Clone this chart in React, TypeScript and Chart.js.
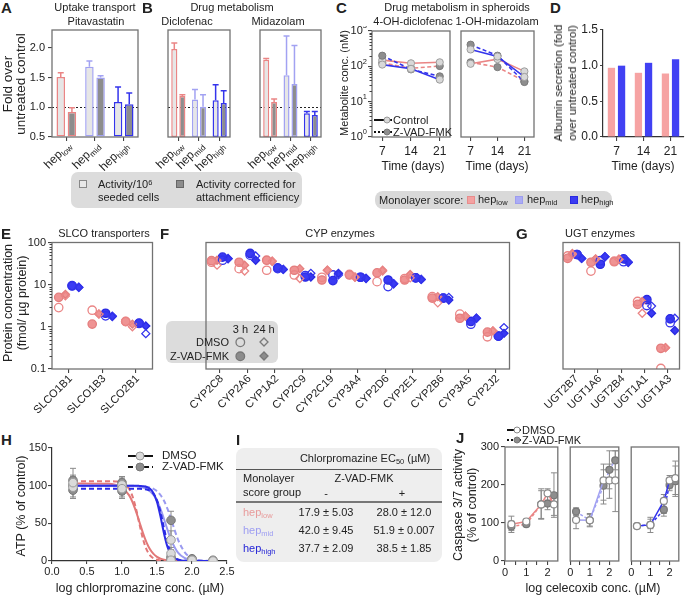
import React, { useEffect, useRef } from 'react';
import { Chart, registerables } from 'chart.js';

Chart.register(...registerables);

const FONT = "'Liberation Sans', Arial, Helvetica, sans-serif";
const INK = '#222';
Chart.defaults.font.family = FONT;
Chart.defaults.color = INK;

// ---------------- DATA ----------------
// Panels A & B: fold over untreated control (bar value, top of error bar)
const groups = ['low', 'mid', 'high'];
const pitavastatinSeeded = [1.51, 1.68, 1.09];
const pitavastatinSeededTop = [1.58, 1.78, 1.34];
const pitavastatinCorrected = [0.92, 1.5, 1.05];
const pitavastatinCorrectedTop = [0.99, 1.53, 1.24];
const diclofenacSeeded = [1.98, 1.13, 1.12];
const diclofenacSeededTop = [2.08, 1.3, 1.38];
const diclofenacCorrected = [1.19, 1.01, 1.07];
const diclofenacCorrectedTop = [1.21, 1.21, 1.28];
const midazolamSeeded = [1.8, 1.54, 0.9];
const midazolamSeededTop = [1.82, 2.2, 0.93];
const midazolamCorrected = [1.09, 1.39, 0.87];
const midazolamCorrectedTop = [1.14, 2.04, 0.93];
const activityTicks = [0.5, 1.0, 1.5, 2.0];

// Panel C: metabolite conc. (nM) in spheroids
const days = [7, 14, 21];
const ohDiclofenacLowCtrl = [150, 122, 130];
const ohDiclofenacLowZvad = [125, 88, 102];
const ohDiclofenacHighCtrl = [112, 85, 42];
const ohDiclofenacHighZvad = [200, 82, 52];
const ohMidazolamLowCtrl = [118, 160, 72];
const ohMidazolamLowZvad = [130, 95, 38];
const ohMidazolamHighCtrl = [300, 190, 50];
const ohMidazolamHighZvad = [410, 200, 36];
const metaboliteTicks = [1, 10, 100, 1000];
const metaboliteExponents = ['0', '1', '2', '3'];

// Panel D: albumin secretion
const albuminDays = ['7', '14', '21'];
const albuminLow = [0.97, 0.9, 0.89];
const albuminHigh = [1.0, 1.04, 1.09];

// Panels E, F, G: protein concentration (fmol/µg protein)
const proteins = [
  'SLCO1B1', 'SLCO1B3', 'SLCO2B1',
  'CYP2C8', 'CYP2A6', 'CYP1A2', 'CYP2C9', 'CYP2C19', 'CYP3A4', 'CYP2D6', 'CYP2E1', 'CYP2B6', 'CYP3A5', 'CYP2J2',
  'UGT2B7', 'UGT1A6', 'UGT2B4', 'UGT1A1', 'UGT1A3',
];
const lowDmso3h = [2.86, 2.48, 1.35, 34, 24, 22, 17, 15, 17.5, 11.8, 14, 5.2, 2.0, 0.58, 48, 21, 36, 4.0, 0.103];
const lowZvad3h = [5.0, 1.16, 1.33, 37, 34, 38, 22, 12.9, 17, 19, 12.9, 4.8, 1.6, 0.75, 42, 34, 35, 3.4, 0.31];
const lowDmso24h = [5.4, 2.0, 1.0, 29, 21, 36, 14, 22, 15, 21, 14.5, 3.7, 1.8, 0.8, 52, 40, 40, 2.1, 0.32];
const lowZvad24h = [5.9, 2.03, 1.16, 38, 29, 36, 24, 22, 15.2, 22, 17.5, 5.2, 1.8, 0.8, 55, 41, 40, 4.0, 0.32];
const highDmso3h = [9.3, 1.82, 1.2, 38, 50, 24, 16.5, 17, 15, 9.0, 14.5, 4.8, 1.15, 0.6, 52, 37, 35, 3.2, 1.25];
const highZvad3h = [9.5, 2.1, 1.22, 45, 55, 25, 15.2, 12.5, 15, 12.9, 14.5, 4.8, 1.34, 0.6, 52, 30.5, 41, 4.4, 1.55];
const highDmso24h = [8.6, 1.8, 0.69, 42, 48, 23, 18.6, 17, 14, 10.5, 13.3, 5.0, 1.6, 0.96, 42, 46, 34, 3.1, 1.6];
const highZvad24h = [8.7, 1.75, 1.05, 41, 38, 23, 15.2, 18.6, 14.1, 10.5, 13.3, 4.3, 1.6, 0.7, 42, 46, 34, 2.1, 0.82];
const proteinTicks = [0.1, 1, 10, 100];

// Panel H: ATP (% of control) vs log chlorpromazine
const fitX = [0.3, 0.8, 0.9, 1.0, 1.1, 1.15, 1.2, 1.25, 1.3, 1.35, 1.4, 1.45, 1.5, 1.55, 1.6, 1.65, 1.7, 1.8, 1.9, 2.0, 2.1, 2.2, 2.3];
const fitLowDmso = [103, 102.4, 101.2, 97.5, 87.4, 78.3, 65.9, 51.5, 37.1, 24.8, 15.6, 9.4, 5.5, 3.2, 1.8, 1.0, 0.6, 0.2, 0.1, 0, 0, 0, 0];
const fitLowZvad = [106, 106, 105.6, 103.8, 95.9, 85.9, 69.5, 48.7, 29.2, 15.4, 7.5, 3.5, 1.6, 0.7, 0.3, 0.1, 0, 0, 0, 0, 0, 0, 0];
const fitMidDmso = [100, 100, 100, 99.9, 99.7, 99.6, 99.2, 98.6, 97.5, 95.7, 92.7, 87.6, 79.9, 69.1, 55.7, 41.5, 28.5, 11.2, 3.8, 1.2, 0.4, 0.1, 0];
const fitMidZvad = [100, 100, 100, 100, 99.9, 99.8, 99.7, 99.6, 99.2, 98.6, 97.5, 95.7, 92.7, 87.6, 79.9, 69.1, 55.7, 28.5, 11.2, 3.8, 1.2, 0.4, 0.1];
const fitHighDmso = [100, 100, 100, 100, 100, 100, 100, 99.7, 99.3, 98.3, 95.8, 90.1, 78.4, 59.1, 36.5, 18.6, 8.3, 1.4, 0.2, 0, 0, 0, 0];
const fitHighZvad = [96, 96, 96, 96, 96, 96, 96, 95.8, 95.5, 94.9, 93.2, 89.2, 80.6, 64.9, 43.6, 23.9, 11.2, 2.0, 0.3, 0, 0, 0, 0];
const atpX = [0.3, 1.0, 1.7, 2.0, 2.3];
const atpLowDmso = [104, 96, 1, 1, 0];
const atpLowZvad = [107, 104, 1, 2, 0];
const atpMidDmso = [98, 101, 28, 1, 0];
const atpMidZvad = [100, 100, 54, 3, 1];
const atpHighDmso = [101, 99, 10, 0, 0];
const atpHighZvad = [94, 93, 5, 1, 0];
const atpLowDmsoErr = [[96, 112], [88, 104], null, null, null];
const atpLowZvadErr = [[100, 114], [97, 112], null, null, null];
const atpMidDmsoErr = [[83, 123], [90, 110], [15, 40], null, null];
const atpMidZvadErr = [[92, 108], [92, 108], [32, 66], null, null];
const atpHighDmsoErr = [[90, 110], [83, 112], [2, 18], null, null];
const atpHighZvadErr = [[85, 103], [85, 101], null, null, null];

// Panel I: EC50 table
const ec50Groups = ['low', 'mid', 'high'];
const ec50Dmso = ['17.9 ± 5.03', '42.0 ± 9.45', '37.7 ± 2.09'];
const ec50Zvad = ['28.0 ± 12.0', '51.9 ± 0.007', '38.5 ± 1.85'];

// Panel J: caspase 3/7 activity (% of control)
const celeX = [0.3, 1.0, 1.7, 2.0, 2.3];
const celeTicks = [0, 0.5, 1, 1.5, 2];
const casLowDmso = [97, 104, 149, 178, 149];
const casLowZvad = [91, 97, 149, 151, 173];
const casMidDmso = [108, 107, 212, 212, 212];
const casMidZvad = [130, 107, 198, 240, 265];
const casHighDmso = [92, 95, 158, 212, 218];
const casHighZvad = [92, 95, 135, 200, 210];
const casLowDmsoErr = [[80, 118], [96, 110], [112, 190], [160, 190], [120, 175]];
const casLowZvadErr = [[75, 105], [92, 103], [110, 185], [135, 180], [115, 232]];
const casMidDmsoErr = [[85, 130], [90, 125], [150, 255], [165, 255], [130, 290]];
const casMidZvadErr = [[120, 140], [92, 122], [160, 240], [190, 290], [240, 290]];
const casHighDmsoErr = [[88, 96], [75, 115], [125, 175], [190, 225], [175, 263]];
const casHighZvadErr = [[88, 96], [85, 110], [118, 150], [185, 215], [170, 250]];

// ---------------- STYLE ----------------
const C_LOW = '#ea8585';
const C_MID = '#a2a2f2';
const C_HIGH = '#3434ec';
const groupColors = [C_LOW, C_MID, C_HIGH];

// ---------------- PLUGINS ----------------
function drawErr(chart: any, after: boolean) {
  const { ctx } = chart;
  chart.data.datasets.forEach((ds: any, di: number) => {
    if (!ds.errorBars || !!ds.errorAfter !== after) return;
    const meta = chart.getDatasetMeta(di);
    const ys = chart.scales[meta.yAxisID];
    ctx.save();
    ctx.lineWidth = ds.errorWidth || 1;
    meta.data.forEach((el: any, i: number) => {
      const r = ds.errorBars[i];
      if (!r) return;
      const col = Array.isArray(ds.errorColor) ? ds.errorColor[i] : ds.errorColor || '#888';
      ctx.strokeStyle = col;
      const x = el.x;
      const y1 = ys.getPixelForValue(r[0]);
      const y2 = ys.getPixelForValue(r[1]);
      const cap = ds.errorCap || 3;
      ctx.beginPath();
      ctx.moveTo(x, y1);
      ctx.lineTo(x, y2);
      ctx.moveTo(x - cap, y2);
      ctx.lineTo(x + cap, y2);
      if (!ds.errorUpper) {
        ctx.moveTo(x - cap, y1);
        ctx.lineTo(x + cap, y1);
      }
      ctx.stroke();
    });
    ctx.restore();
  });
}
Chart.register({
  id: 'errorBars',
  beforeDatasetsDraw(chart: any) { drawErr(chart, false); },
  afterDatasetsDraw(chart: any) { drawErr(chart, true); },
} as any);

function frame(color = '#727272', width = 1.3) {
  return {
    id: 'frame',
    afterDatasetsDraw(chart: any) {
      const { ctx, chartArea: a } = chart;
      ctx.save();
      ctx.strokeStyle = color;
      ctx.lineWidth = width;
      ctx.strokeRect(a.left, a.top, a.right - a.left, a.bottom - a.top);
      ctx.restore();
    },
  };
}

function refLine(value: number) {
  return {
    id: 'refLine',
    beforeDatasetsDraw(chart: any) {
      const { ctx, chartArea: a, scales } = chart;
      const y = Math.round(scales.y.getPixelForValue(value)) + 0.5;
      ctx.save();
      ctx.strokeStyle = '#222';
      ctx.lineWidth = 1;
      ctx.setLineDash([2, 2]);
      ctx.beginPath();
      ctx.moveTo(a.left, y);
      ctx.lineTo(a.right, y);
      ctx.stroke();
      ctx.restore();
    },
  };
}

function minorLog(len = 2.5) {
  return {
    id: 'minorLog',
    afterDraw(chart: any) {
      const s = chart.scales.y;
      const { ctx, chartArea: a } = chart;
      ctx.save();
      ctx.strokeStyle = '#444';
      ctx.lineWidth = 1;
      ctx.beginPath();
      const k0 = Math.floor(Math.log10(s.min));
      const k1 = Math.ceil(Math.log10(s.max));
      for (let k = k0; k < k1; k++) {
        for (let mm = 2; mm <= 9; mm++) {
          const v = mm * Math.pow(10, k);
          if (v <= s.min || v >= s.max) continue;
          const y = Math.round(s.getPixelForValue(v)) + 0.5;
          ctx.moveTo(a.left - len, y);
          ctx.lineTo(a.left, y);
        }
      }
      ctx.stroke();
      ctx.restore();
    },
  };
}

function richTicks(cfg: any) {
  return {
    id: 'richTicks',
    afterDraw(chart: any) {
      const { ctx, chartArea: a } = chart;
      const sc = chart.scales[cfg.axis];
      const fs = (pt: any) => (pt.sub || pt.sup ? cfg.size * 0.68 : cfg.size);
      ctx.save();
      ctx.textBaseline = 'middle';
      ctx.textAlign = 'left';
      for (const it of cfg.items) {
        const p = sc.getPixelForValue(it.v);
        const widths = it.parts.map((pt: any) => {
          ctx.font = `${fs(pt)}px ${FONT}`;
          return ctx.measureText(pt.t).width;
        });
        const total = widths.reduce((s: number, w: number) => s + w, 0);
        ctx.save();
        ctx.fillStyle = cfg.color || INK;
        if (cfg.axis === 'x') {
          ctx.translate(p + (cfg.dx || 0), a.bottom + cfg.gap);
          if (cfg.rot) ctx.rotate((cfg.rot * Math.PI) / 180);
        } else {
          ctx.translate(a.left - cfg.gap, p);
        }
        let x = cfg.axis === 'y' || cfg.rot ? -total : -total / 2;
        it.parts.forEach((pt: any, i: number) => {
          ctx.font = `${fs(pt)}px ${FONT}`;
          const dy = pt.sub ? cfg.size * 0.3 : pt.sup ? -cfg.size * 0.42 : 0;
          ctx.fillText(pt.t, x, dy);
          x += widths[i];
        });
        ctx.restore();
      }
      ctx.restore();
    },
  };
}

// ---------------- HELPERS ----------------
const tickFont = (size: number) => ({ family: FONT, size });
const tickGrid = (len = 4, extra: any = {}) => ({
  display: true, drawOnChartArea: false, drawTicks: true, tickLength: len,
  color: '#444', tickColor: '#444', lineWidth: 1.1, ...extra,
});
const fitTo = (size: number) => (s: any) => {
  if (s.isHorizontal()) s.height = size; else s.width = size;
  s.paddingLeft = 0; s.paddingRight = 0; s.paddingTop = 0; s.paddingBottom = 0;
};
function baseOptions(m: any, yShown: boolean) {
  return {
    animation: false, responsive: false, maintainAspectRatio: false, events: [],
    layout: { padding: { left: yShown ? 0 : m.l, top: m.t, right: m.r, bottom: 0 } },
    plugins: { legend: { display: false }, tooltip: { enabled: false } },
  };
}

type Rect = { l: number; t: number; r: number; b: number };

function ChartCanvas({ rect, m, make }: { rect: Rect; m: Rect; make: (m: Rect) => any }) {
  const ref = useRef<HTMLCanvasElement>(null);
  const w = rect.r - rect.l + m.l + m.r;
  const h = rect.b - rect.t + m.t + m.b;
  useEffect(() => {
    const chart = new Chart(ref.current as HTMLCanvasElement, make(m));
    return () => chart.destroy();
  }, []);
  return (
    <canvas ref={ref} width={w} height={h}
      style={{ position: 'absolute', left: rect.l - m.l, top: rect.t - m.t, width: w, height: h }} />
  );
}

// ---------------- CHART FACTORIES ----------------
function activityChart(seeded: number[], seededTop: number[], corrected: number[], correctedTop: number[], showY: boolean) {
  return (m: Rect) => {
    const ds = (vals: number[], tops: number[], bg: string) => ({
      data: vals, base: 0.5, backgroundColor: bg, borderColor: groupColors, borderWidth: 1.5, borderSkipped: false,
      categoryPercentage: 0.78, barPercentage: 0.76,
      errorBars: vals.map((v, i) => [v, tops[i]]), errorColor: groupColors, errorCap: 3, errorWidth: 1.5,
      errorUpper: true, errorAfter: true,
    });
    return {
      type: 'bar',
      data: { labels: groups, datasets: [ds(seeded, seededTop, '#e6e6e6'), ds(corrected, correctedTop, '#8d8d8d')] },
      options: {
        ...baseOptions(m, showY),
        scales: {
          x: { grid: tickGrid(4, { offset: false }), border: { display: false }, ticks: { display: false }, afterFit: fitTo(m.b) },
          y: {
            display: showY, min: 0.5, max: 2.3, grid: tickGrid(4), border: { display: false },
            afterBuildTicks: (s: any) => { s.ticks = activityTicks.map((v) => ({ value: v })); },
            ticks: { callback: (v: any) => Number(v).toFixed(1), font: tickFont(11), color: INK, padding: 3 },
            afterFit: fitTo(m.l),
          },
        },
      },
      plugins: [
        refLine(1), frame(),
        richTicks({ axis: 'x', items: groups.map((g, i) => ({ v: i, parts: [{ t: 'hep' }, { t: g, sub: true }] })), size: 12, rot: -45, gap: 7, dx: 3 }),
      ],
    };
  };
}

function metaboliteChart(lowCtrl: number[], lowZvad: number[], highCtrl: number[], highZvad: number[], showY: boolean) {
  return (m: Rect) => {
    const line = (vals: number[], color: string, zvad: boolean) => ({
      data: days.map((d, i) => ({ x: d, y: vals[i] })),
      showLine: true, borderColor: color, borderWidth: 1.6, borderDash: zvad ? [4, 2.5] : [],
      pointRadius: 3.6, pointBackgroundColor: zvad ? '#8e8e8e' : '#d8d8d8',
      pointBorderColor: zvad ? '#7a7a7a' : '#9c9c9c', pointBorderWidth: 1,
    });
    const plugins: any[] = [frame()];
    if (showY) {
      plugins.push(minorLog(2.5));
      plugins.push(richTicks({
        axis: 'y', size: 11, gap: 5,
        items: metaboliteTicks.map((v, i) => ({ v, parts: [{ t: '10' }, { t: metaboliteExponents[i], sup: true }] })),
      }));
    }
    return {
      type: 'scatter',
      data: { datasets: [line(highCtrl, C_HIGH, false), line(highZvad, C_HIGH, true), line(lowCtrl, C_LOW, false), line(lowZvad, C_LOW, true)] },
      options: {
        ...baseOptions(m, showY),
        scales: {
          x: {
            type: 'linear', min: 4.5, max: 23.5,
            afterBuildTicks: (s: any) => { s.ticks = days.map((v) => ({ value: v })); },
            ticks: { font: tickFont(12), color: INK, padding: 3, maxRotation: 0, autoSkip: false },
            grid: tickGrid(4), border: { display: false }, afterFit: fitTo(m.b),
          },
          y: {
            type: 'logarithmic', display: showY, min: 1, max: 1000,
            afterBuildTicks: (s: any) => { s.ticks = metaboliteTicks.map((v) => ({ value: v })); },
            ticks: { display: false }, grid: tickGrid(4), border: { display: false }, afterFit: fitTo(m.l),
          },
        },
      },
      plugins,
    };
  };
}

function albuminChart(m: Rect) {
  return {
    type: 'bar',
    data: {
      labels: albuminDays,
      datasets: [
        { data: albuminLow, backgroundColor: '#f6a3a3', categoryPercentage: 0.75, barPercentage: 0.72 },
        { data: albuminHigh, backgroundColor: '#4141f3', categoryPercentage: 0.75, barPercentage: 0.72 },
      ],
    },
    options: {
      ...baseOptions(m, true),
      scales: {
        x: {
          grid: tickGrid(4, { offset: false }), border: { display: true, color: '#333', width: 1.2 },
          ticks: { font: tickFont(12), color: INK, padding: 3, maxRotation: 0 }, afterFit: fitTo(m.b),
        },
        y: {
          min: 0, max: 1.5, grid: tickGrid(3), border: { display: true, color: '#333', width: 1.2 },
          ticks: { stepSize: 0.5, callback: (v: any) => Number(v).toFixed(1), font: tickFont(12), color: INK, padding: 2 },
          afterFit: fitTo(m.l),
        },
      },
    },
  };
}

const proteinSeries = [
  { vals: lowDmso3h, color: C_LOW, shape: 'circle', filled: false, off: -0.3 },
  { vals: lowZvad3h, color: C_LOW, shape: 'circle', filled: true, off: -0.3 },
  { vals: lowDmso24h, color: C_LOW, shape: 'rectRot', filled: false, off: -0.1 },
  { vals: lowZvad24h, color: C_LOW, shape: 'rectRot', filled: true, off: -0.1 },
  { vals: highDmso3h, color: C_HIGH, shape: 'circle', filled: false, off: 0.1 },
  { vals: highZvad3h, color: C_HIGH, shape: 'circle', filled: true, off: 0.1 },
  { vals: highDmso24h, color: C_HIGH, shape: 'rectRot', filled: false, off: 0.3 },
  { vals: highZvad24h, color: C_HIGH, shape: 'rectRot', filled: true, off: 0.3 },
];

function proteinChart(start: number, end: number, showY: boolean) {
  return (m: Rect) => {
    const cats = proteins.slice(start, end);
    const datasets = proteinSeries.map((s) => ({
      data: cats.map((_, i) => ({ x: i + s.off, y: s.vals[start + i] })),
      pointStyle: s.shape, pointRadius: s.shape === 'circle' ? 4.2 : 4.0,
      pointBackgroundColor: s.filled ? (s.color === C_LOW ? '#ef9393' : '#3b3bf3') : 'rgba(255,255,255,0)',
      pointBorderColor: s.filled ? (s.color === C_LOW ? '#e47d7d' : '#2a2ae2') : s.color,
      pointBorderWidth: 1.3,
      order: s.filled ? 1 : 0,
    }));
    const plugins: any[] = [
      frame(),
      richTicks({ axis: 'x', items: cats.map((c, i) => ({ v: i, parts: [{ t: c }] })), size: 11, rot: -45, gap: 8, dx: 2 }),
    ];
    if (showY) plugins.push(minorLog(2.5));
    return {
      type: 'scatter',
      data: { datasets },
      options: {
        ...baseOptions(m, showY),
        scales: {
          x: {
            type: 'linear', min: -0.5, max: cats.length - 0.5,
            afterBuildTicks: (s: any) => { s.ticks = cats.map((_, i) => ({ value: i })); },
            ticks: { display: false }, grid: tickGrid(4), border: { display: false }, afterFit: fitTo(m.b),
          },
          y: {
            type: 'logarithmic', display: showY, min: 0.1, max: 100,
            afterBuildTicks: (s: any) => { s.ticks = proteinTicks.map((v) => ({ value: v })); },
            ticks: { callback: (v: any) => String(v), font: tickFont(11), color: INK, padding: 2 },
            grid: tickGrid(4), border: { display: false }, afterFit: fitTo(m.l),
          },
        },
      },
      plugins,
    };
  };
}

function atpChart(m: Rect) {
  const curve = (vals: number[], color: string, dashed: boolean) => ({
    data: fitX.map((x, i) => ({ x, y: vals[i] })), showLine: true, pointRadius: 0,
    borderColor: color, borderWidth: 2, borderDash: dashed ? [5, 3] : [], cubicInterpolationMode: 'monotone', order: 1,
  });
  const pts = (vals: number[], errs: any[], zvad: boolean) => ({
    data: atpX.map((x, i) => ({ x, y: vals[i] })), showLine: false, pointRadius: 4.3,
    pointBackgroundColor: zvad ? '#8e8e8e' : '#dadada', pointBorderColor: zvad ? '#777' : '#9a9a9a', pointBorderWidth: 1,
    errorBars: errs, errorColor: '#8a8a8a', errorCap: 3, errorWidth: 1, order: 0,
  });
  return {
    type: 'scatter',
    data: {
      datasets: [
        curve(fitHighDmso, '#2b2be6', false), curve(fitHighZvad, '#2b2be6', true),
        curve(fitMidDmso, '#9a9af0', false), curve(fitMidZvad, '#9a9af0', true),
        curve(fitLowDmso, '#e27878', false), curve(fitLowZvad, '#e27878', true),
        pts(atpLowDmso, atpLowDmsoErr, false), pts(atpMidDmso, atpMidDmsoErr, false), pts(atpHighDmso, atpHighDmsoErr, false),
        pts(atpLowZvad, atpLowZvadErr, true), pts(atpMidZvad, atpMidZvadErr, true), pts(atpHighZvad, atpHighZvadErr, true),
      ],
    },
    options: {
      ...baseOptions(m, true),
      scales: {
        x: {
          type: 'linear', min: 0, max: 2.5, grid: tickGrid(3), border: { display: true, color: '#333', width: 1.2 },
          ticks: { stepSize: 0.5, callback: (v: any) => Number(v).toFixed(1), font: tickFont(11), color: INK, padding: 1, maxRotation: 0, autoSkip: false },
          afterFit: fitTo(m.b),
        },
        y: {
          min: 0, max: 150, grid: tickGrid(4), border: { display: true, color: '#333', width: 1.2 },
          ticks: { stepSize: 50, font: tickFont(11), color: INK, padding: 1 }, afterFit: fitTo(m.l),
        },
      },
    },
  };
}

function caspaseChart(dmso: number[], dmsoErr: any[], zvad: number[], zvadErr: any[], color: string, showY: boolean) {
  return (m: Rect) => {
    const ds = (vals: number[], errs: any[], z: boolean) => ({
      data: celeX.map((x, i) => ({ x, y: vals[i] })), showLine: true, borderColor: color, borderWidth: 1.5,
      borderDash: z ? [3, 2] : [], pointRadius: 3.5,
      pointBackgroundColor: z ? '#8e8e8e' : '#ffffff', pointBorderColor: z ? '#777' : '#8a8a8a', pointBorderWidth: 1.2,
      errorBars: errs, errorColor: '#8a8a8a', errorCap: 3, errorWidth: 1, order: z ? 1 : 0,
    });
    return {
      type: 'scatter',
      data: { datasets: [ds(dmso, dmsoErr, false), ds(zvad, zvadErr, true)] },
      options: {
        ...baseOptions(m, showY),
        scales: {
          x: {
            type: 'linear', min: 0, max: 2.48,
            afterBuildTicks: (s: any) => { s.ticks = celeTicks.map((v) => ({ value: v })); },
            ticks: { callback: (v: any) => (Number.isInteger(v) ? String(v) : ''), font: tickFont(11), color: INK, padding: 1, maxRotation: 0, autoSkip: false },
            grid: tickGrid(4), border: { display: false }, afterFit: fitTo(m.b),
          },
          y: {
            display: showY, min: 0, max: 300, grid: tickGrid(4), border: { display: false },
            ticks: { stepSize: 100, font: tickFont(11), color: INK, padding: 2 }, afterFit: fitTo(m.l),
          },
        },
      },
      plugins: [frame()],
    };
  };
}

// ---------------- HTML TEXT / LEGEND HELPERS ----------------
const Sub = ({ children }: any) => <span style={{ fontSize: '0.68em', position: 'relative', top: '0.3em' }}>{children}</span>;
const Sup = ({ children }: any) => <span style={{ fontSize: '0.68em', position: 'relative', top: '-0.45em' }}>{children}</span>;

function Txt({ x, y, s = 11, children, align = 'center', bold = false, color = INK }: any) {
  const tx = align === 'center' ? '-50%' : align === 'right' ? '-100%' : '0';
  return (
    <div style={{
      position: 'absolute', left: x, top: y, fontSize: s, lineHeight: 1, fontFamily: FONT,
      fontWeight: bold ? 700 : 400, color, whiteSpace: 'nowrap', transform: `translate(${tx}, -50%)`,
    }}>{children}</div>
  );
}

function RotTxt({ x, y, s = 12, lh = 13, lines }: any) {
  return (
    <div style={{
      position: 'absolute', left: x, top: y, transform: 'translate(-50%, -50%) rotate(-90deg)',
      fontSize: s, lineHeight: `${lh}px`, textAlign: 'center', whiteSpace: 'nowrap', fontFamily: FONT, color: INK,
    }}>{lines.map((l: string, i: number) => <div key={i}>{l}</div>)}</div>
  );
}

const Box = ({ x, y, w, h, r = 6, fill = '#dcdcdc' }: any) => (
  <div style={{ position: 'absolute', left: x, top: y, width: w, height: h, borderRadius: r, background: fill }} />
);

const Swatch = ({ x, y, fill, stroke }: any) => (
  <div style={{ position: 'absolute', left: x, top: y, width: 8, height: 8, background: fill, border: `1px solid ${stroke}`, boxSizing: 'border-box' }} />
);

function LineSym({ x1, x2, y, dash, cx, r, fill, stroke }: any) {
  const w = x2 - x1;
  return (
    <svg style={{ position: 'absolute', left: x1, top: y - 6, overflow: 'visible' }} width={w} height={12}>
      <line x1={0} y1={6} x2={w} y2={6} stroke="#111" strokeWidth={2} strokeDasharray={dash} />
      <circle cx={cx - x1} cy={6} r={r} fill={fill} stroke={stroke} strokeWidth={1} />
    </svg>
  );
}

function Marker({ x, y, shape, r, fill, stroke }: any) {
  const size = r * 2 + 4;
  const c = size / 2;
  return (
    <svg style={{ position: 'absolute', left: x - c, top: y - c, overflow: 'visible' }} width={size} height={size}>
      {shape === 'circle'
        ? <circle cx={c} cy={c} r={r} fill={fill} stroke={stroke} strokeWidth={1.3} />
        : <polygon points={`${c - r},${c} ${c},${c - r} ${c + r},${c} ${c},${c + r}`} fill={fill} stroke={stroke} strokeWidth={1.3} />}
    </svg>
  );
}

const Hep = ({ g }: any) => <>hep<Sub>{g}</Sub></>;

// ---------------- APP ----------------
export default function App() {
  const mA = { l: 52, t: 4, r: 2, b: 40 };
  const mB = { l: 25, t: 4, r: 2, b: 40 };
  const mC = { l: 32, t: 4, r: 2, b: 22 };
  const mC2 = { l: 2, t: 4, r: 2, b: 22 };
  const mD = { l: 32, t: 6, r: 1, b: 22 };
  const mE = { l: 52, t: 4, r: 2, b: 56 };
  const mF = { l: 45, t: 4, r: 2, b: 56 };
  const mH = { l: 40, t: 8, r: 8, b: 20 };
  const mJ = { l: 30, t: 6, r: 1, b: 18 };
  const mJ2 = { l: 1, t: 6, r: 1, b: 18 };
  const tableColors = ['#e89b9b', '#9d9df2', '#2424d6'];

  return (
    <div style={{ position: 'fixed', left: 0, top: 0, width: 685, height: 597, background: '#fff', overflow: 'hidden', fontFamily: FONT, color: INK }}>
      {/* backgrounds */}
      <Box x={71} y={172} w={231} h={36} r={7} fill="#dcdcdc" />
      <Box x={375} y={191} w={237} h={18} r={8} fill="#d9d9d9" />
      <Box x={166} y={321} w={112} h={42} r={6} fill="#dcdcdc" />
      <Box x={236} y={448} w={206} h={114} r={8} fill="#eeeeee" />

      {/* charts */}
      <ChartCanvas rect={{ l: 52, t: 30, r: 138, b: 137 }} m={mA}
        make={activityChart(pitavastatinSeeded, pitavastatinSeededTop, pitavastatinCorrected, pitavastatinCorrectedTop, true)} />
      <ChartCanvas rect={{ l: 143, t: 30, r: 230, b: 137 }} m={mB}
        make={activityChart(diclofenacSeeded, diclofenacSeededTop, diclofenacCorrected, diclofenacCorrectedTop, false)} />
      <ChartCanvas rect={{ l: 235, t: 30, r: 321, b: 137 }} m={mB}
        make={activityChart(midazolamSeeded, midazolamSeededTop, midazolamCorrected, midazolamCorrectedTop, false)} />
      <ChartCanvas rect={{ l: 372, t: 30, r: 453, b: 137 }} m={mC}
        make={metaboliteChart(ohDiclofenacLowCtrl, ohDiclofenacLowZvad, ohDiclofenacHighCtrl, ohDiclofenacHighZvad, true)} />
      <ChartCanvas rect={{ l: 458, t: 30, r: 537, b: 137 }} m={mC2}
        make={metaboliteChart(ohMidazolamLowCtrl, ohMidazolamLowZvad, ohMidazolamHighCtrl, ohMidazolamHighZvad, false)} />
      <ChartCanvas rect={{ l: 603, t: 30, r: 684, b: 137 }} m={mD} make={albuminChart} />
      <ChartCanvas rect={{ l: 52, t: 241, r: 156, b: 369 }} m={mE} make={proteinChart(0, 3, true)} />
      <ChartCanvas rect={{ l: 161, t: 241, r: 513, b: 369 }} m={mF} make={proteinChart(3, 14, false)} />
      <ChartCanvas rect={{ l: 518, t: 241, r: 683, b: 369 }} m={mF} make={proteinChart(14, 19, false)} />
      <ChartCanvas rect={{ l: 52, t: 448, r: 227, b: 561 }} m={mH} make={atpChart} />
      <ChartCanvas rect={{ l: 505, t: 447, r: 562, b: 561 }} m={mJ}
        make={caspaseChart(casLowDmso, casLowDmsoErr, casLowZvad, casLowZvadErr, C_LOW, true)} />
      <ChartCanvas rect={{ l: 566, t: 447, r: 623, b: 561 }} m={mJ2}
        make={caspaseChart(casMidDmso, casMidDmsoErr, casMidZvad, casMidZvadErr, C_MID, false)} />
      <ChartCanvas rect={{ l: 627, t: 447, r: 683, b: 561 }} m={mJ2}
        make={caspaseChart(casHighDmso, casHighDmsoErr, casHighZvad, casHighZvadErr, C_HIGH, false)} />

      {/* panel letters */}
      <Txt x={1} y={7} s={15} bold align="left">A</Txt>
      <Txt x={142} y={7} s={15} bold align="left">B</Txt>
      <Txt x={336} y={7} s={15} bold align="left">C</Txt>
      <Txt x={550} y={7} s={15} bold align="left">D</Txt>
      <Txt x={1} y={233} s={15} bold align="left">E</Txt>
      <Txt x={160} y={233} s={15} bold align="left">F</Txt>
      <Txt x={516} y={233} s={15} bold align="left">G</Txt>
      <Txt x={1} y={439} s={15} bold align="left">H</Txt>
      <Txt x={236} y={439} s={15} bold align="left">I</Txt>
      <Txt x={456} y={437} s={15} bold align="left">J</Txt>

      {/* titles */}
      <Txt x={95} y={7}>Uptake transport</Txt>
      <Txt x={96} y={21}>Pitavastatin</Txt>
      <Txt x={232} y={7}>Drug metabolism</Txt>
      <Txt x={187} y={21}>Diclofenac</Txt>
      <Txt x={278} y={21}>Midazolam</Txt>
      <Txt x={457} y={7}>Drug metabolism in spheroids</Txt>
      <Txt x={413} y={21}>4-OH-diclofenac</Txt>
      <Txt x={497} y={21}>1-OH-midazolam</Txt>
      <Txt x={104} y={233}>SLCO transporters</Txt>
      <Txt x={340} y={233}>CYP enzymes</Txt>
      <Txt x={600} y={233}>UGT enzymes</Txt>

      {/* axis titles */}
      <RotTxt x={14} y={84} s={13.5} lh={13} lines={['Fold over', 'untreated control']} />
      <RotTxt x={344} y={83} s={11} lh={13} lines={['Metabolite conc. (nM)']} />
      <RotTxt x={565} y={83} s={11.5} lh={14} lines={['Albumin secretion (fold', 'over untreated control)']} />
      <RotTxt x={15} y={303} s={12.5} lh={14} lines={['Protein concentration', '(fmol/ µg protein)']} />
      <RotTxt x={21} y={506} s={12.5} lh={13} lines={['ATP (% of control)']} />
      <RotTxt x={465} y={505} s={12.5} lh={14} lines={['Caspase 3/7 activity', '(% of control)']} />
      <Txt x={413} y={166} s={12}>Time (days)</Txt>
      <Txt x={497} y={166} s={12}>Time (days)</Txt>
      <Txt x={643} y={166} s={12}>Time (days)</Txt>
      <Txt x={140} y={588} s={12.5}>log chlorpromazine conc. (µM)</Txt>
      <Txt x={593} y={588} s={12.5}>log celecoxib conc. (µM)</Txt>

      {/* A/B legend */}
      <Swatch x={79} y={180} fill="#e8e8e8" stroke="#888" />
      <Txt x={98} y={184} align="left">Activity/10<Sup>6</Sup></Txt>
      <Txt x={98} y={197} align="left">seeded cells</Txt>
      <Swatch x={176} y={180} fill="#8c8c8c" stroke="#666" />
      <Txt x={196} y={184} align="left">Activity corrected for</Txt>
      <Txt x={196} y={197} align="left">attachment efficiency</Txt>

      {/* Monolayer score legend */}
      <Txt x={379} y={200} align="left">Monolayer score:</Txt>
      <Swatch x={467} y={196} fill="#f4a1a1" stroke="#e88c8c" />
      <Txt x={478} y={199} align="left"><Hep g="low" /></Txt>
      <Swatch x={515} y={196} fill="#abacf5" stroke="#9c9cef" />
      <Txt x={527} y={199} align="left"><Hep g="mid" /></Txt>
      <Swatch x={570} y={196} fill="#3b3bf2" stroke="#2a2ae0" />
      <Txt x={581} y={199} align="left"><Hep g="high" /></Txt>

      {/* C legend */}
      <LineSym x1={374} x2={392} y={119.5} cx={387} r={3} fill="#d8d8d8" stroke="#999" />
      <Txt x={393} y={119.5} align="left">Control</Txt>
      <LineSym x1={374} x2={392} y={132} dash="2 2" cx={387} r={3} fill="#8e8e8e" stroke="#777" />
      <Txt x={393} y={132} align="left">Z-VAD-FMK</Txt>

      {/* F legend */}
      <Txt x={240.5} y={329}>3 h</Txt>
      <Txt x={264} y={329}>24 h</Txt>
      <Txt x={229} y={342} align="right">DMSO</Txt>
      <Txt x={229} y={356} align="right">Z-VAD-FMK</Txt>
      <Marker x={240} y={342} shape="circle" r={4.3} fill="none" stroke="#7a7a7a" />
      <Marker x={264} y={342} shape="diamond" r={4} fill="none" stroke="#7a7a7a" />
      <Marker x={240} y={356} shape="circle" r={4.3} fill="#8c8c8c" stroke="#777" />
      <Marker x={264} y={356} shape="diamond" r={4} fill="#8c8c8c" stroke="#777" />

      {/* H legend */}
      <LineSym x1={128} x2={153} y={456} cx={140} r={4} fill="#dadada" stroke="#999" />
      <Txt x={162} y={456} s={11.5} align="left">DMSO</Txt>
      <LineSym x1={128} x2={153} y={467} dash="5 3" cx={140} r={4} fill="#8e8e8e" stroke="#777" />
      <Txt x={162} y={467} s={11.5} align="left">Z-VAD-FMK</Txt>

      {/* J legend */}
      <LineSym x1={507} x2={521} y={430} cx={517} r={3} fill="#fff" stroke="#888" />
      <Txt x={522} y={430} align="left">DMSO</Txt>
      <LineSym x1={507} x2={521} y={440} dash="2 2" cx={517} r={3} fill="#8e8e8e" stroke="#777" />
      <Txt x={522} y={440} align="left">Z-VAD-FMK</Txt>

      {/* Table I */}
      <div style={{ position: 'absolute', left: 236, top: 469, width: 206, height: 1, background: '#555' }} />
      <div style={{ position: 'absolute', left: 236, top: 501, width: 206, height: 2, background: '#777' }} />
      <Txt x={365} y={458}>Chlorpromazine EC<Sub>50</Sub> (µM)</Txt>
      <Txt x={243} y={478} align="left">Monolayer</Txt>
      <Txt x={243} y={492} align="left">score group</Txt>
      <Txt x={364} y={478}>Z-VAD-FMK</Txt>
      <Txt x={326} y={493}>-</Txt>
      <Txt x={402} y={493}>+</Txt>
      {ec50Groups.map((g, i) => (
        <React.Fragment key={g}>
          <Txt x={243} y={512 + i * 18} align="left" color={tableColors[i]}><Hep g={g} /></Txt>
          <Txt x={326} y={512 + i * 18}>{ec50Dmso[i]}</Txt>
          <Txt x={404} y={512 + i * 18}>{ec50Zvad[i]}</Txt>
        </React.Fragment>
      ))}
    </div>
  );
}
